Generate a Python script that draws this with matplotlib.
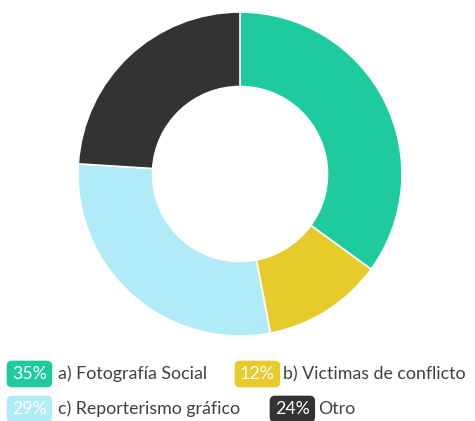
import matplotlib
matplotlib.use("Agg")
import matplotlib.pyplot as plt

labels = ["a) Fotografía Social", "b) Victimas de conflicto",
          "c) Reporterismo gráfico", "Otro"]
values = [35, 12, 29, 24]
colors = ["#1ecb9f", "#e6cb2b", "#b1ebf7", "#333333"]

plt.rcParams['font.family'] = ['Lato', 'DejaVu Sans']

W, H = 475, 421
fig = plt.figure(figsize=(W / 100, H / 100), dpi=100)

# donut, center ~ (240, 174) px, radius ~162 px
cx, cy, r = 240, 174, 162
ax = fig.add_axes([(cx - r) / W, (H - cy - r) / H, 2 * r / W, 2 * r / H])
ax.pie(values, colors=colors, startangle=90, counterclock=False,
       radius=1, wedgeprops=dict(width=0.46, edgecolor="white", linewidth=1.2))
ax.set_xlim(-1, 1)
ax.set_ylim(-1, 1)
ax.set_aspect("equal")
ax.axis("off")

# legend: (box text x, label x, y) in pixels
legend_pos = [(12, 58, 374), (240, 283, 374), (12, 58, 409), (275, 318, 409)]
fs = 12.8
for (bx, tx, y), lab, v, c in zip(legend_pos, labels, values, colors):
    fig.text(bx / W, 1 - y / H, f"{v}%", color="white", fontsize=fs,
             va="center", ha="left",
             bbox=dict(boxstyle="round,pad=0.3,rounding_size=0.3", fc=c, ec="none"))
    fig.text(tx / W, 1 - y / H, lab, color="#404040", fontsize=fs,
             va="center", ha="left")

fig.savefig("out.png", dpi=100)
